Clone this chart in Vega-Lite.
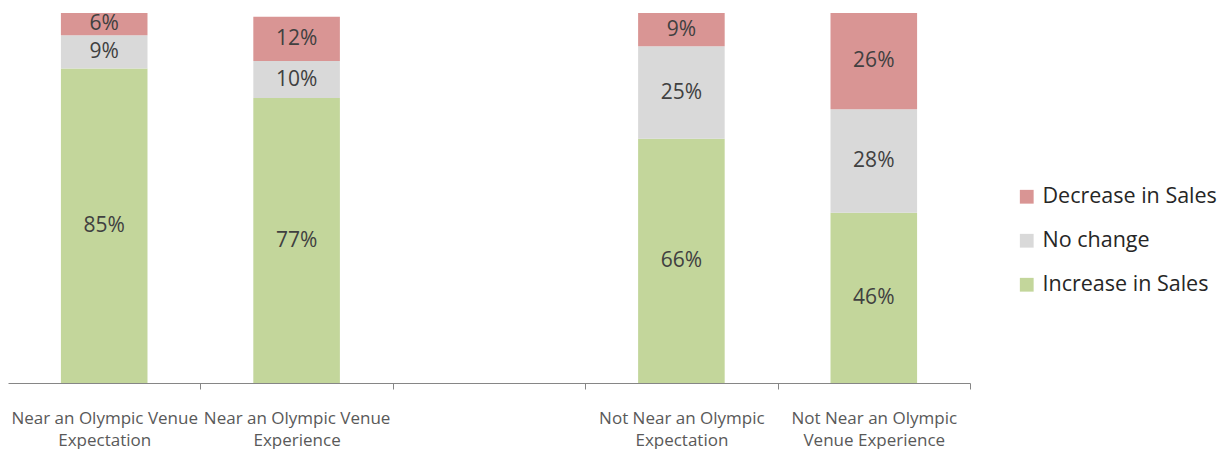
{
  "$schema": "https://vega.github.io/schema/vega-lite/v6.json",
  "width": 962,
  "height": 370,
  "autosize": "none",
  "padding": {"left": 8, "top": 13, "right": 261, "bottom": 66},
  "config": {"view": {"stroke": null}, "font": "Open Sans"},
  "data": {
    "values": [
      {"cat": "Near an Olympic Venue|Expectation", "type": "Increase in Sales", "order": 1, "value": 85},
      {"cat": "Near an Olympic Venue|Expectation", "type": "No change", "order": 2, "value": 9},
      {"cat": "Near an Olympic Venue|Expectation", "type": "Decrease in Sales", "order": 3, "value": 6},
      {"cat": "Near an Olympic Venue|Experience", "type": "Increase in Sales", "order": 1, "value": 77},
      {"cat": "Near an Olympic Venue|Experience", "type": "No change", "order": 2, "value": 10},
      {"cat": "Near an Olympic Venue|Experience", "type": "Decrease in Sales", "order": 3, "value": 12},
      {"cat": "Not Near an Olympic|Expectation", "type": "Increase in Sales", "order": 1, "value": 66},
      {"cat": "Not Near an Olympic|Expectation", "type": "No change", "order": 2, "value": 25},
      {"cat": "Not Near an Olympic|Expectation", "type": "Decrease in Sales", "order": 3, "value": 9},
      {"cat": "Not Near an Olympic|Venue  Experience", "type": "Increase in Sales", "order": 1, "value": 46},
      {"cat": "Not Near an Olympic|Venue  Experience", "type": "No change", "order": 2, "value": 28},
      {"cat": "Not Near an Olympic|Venue  Experience", "type": "Decrease in Sales", "order": 3, "value": 26}
    ]
  },
  "transform": [
    {"stack": "value", "groupby": ["cat"], "sort": [{"field": "order"}], "as": ["v0", "v1"]},
    {"calculate": "(datum.v0 + datum.v1) / 2", "as": "mid"},
    {"calculate": "datum.value + '%'", "as": "lbl"}
  ],
  "encoding": {
    "x": {
      "field": "cat",
      "type": "nominal",
      "title": null,
      "sort": null,
      "scale": {
        "domain": ["Near an Olympic Venue|Expectation", "Near an Olympic Venue|Experience", "gap", "Not Near an Olympic|Expectation", "Not Near an Olympic|Venue  Experience"],
        "paddingInner": 0.55,
        "paddingOuter": 0.275
      },
      "axis": {
        "labelAngle": 0,
        "labelExpr": "isString(datum.value) && datum.value != 'gap' ? split(datum.value, '|') : ''",
        "labelOverlap": false,
        "labelLimit": 0,
        "labelFontSize": 17,
        "labelColor": "#595959",
        "labelLineHeight": 22,
        "labelPadding": 21,
        "labelBaseline": "top",
        "domainColor": "#868686",
        "tickColor": "#868686",
        "tickSize": 6,
        "tickOffset": 96.2,
        "labelOffset": -96.2,
        "grid": false
      }
    }
  },
  "layer": [
    {
      "mark": {"type": "bar"},
      "encoding": {
        "y": {"field": "v0", "type": "quantitative", "scale": {"domain": [0, 100]}, "axis": null},
        "y2": {"field": "v1"},
        "color": {
          "field": "type",
          "type": "nominal",
          "scale": {
            "domain": ["Decrease in Sales", "No change", "Increase in Sales"],
            "range": ["#d99594", "#d9d9d9", "#c3d69b"]
          },
          "legend": {
            "title": null,
            "orient": "none",
            "legendX": 1008,
            "legendY": 173,
            "symbolType": "square",
            "symbolSize": 190,
            "symbolStrokeWidth": 0,
            "labelFontSize": 21.5,
            "labelLimit": 0,
            "labelColor": "#262626",
            "rowPadding": 21,
            "labelOffset": 5,
            "padding": 0
          }
        }
      }
    },
    {
      "mark": {"type": "text", "fontSize": 21, "color": "#404040", "baseline": "middle"},
      "encoding": {
        "y": {"field": "mid", "type": "quantitative", "scale": {"domain": [0, 100]}},
        "text": {"field": "lbl"}
      }
    }
  ]
}
